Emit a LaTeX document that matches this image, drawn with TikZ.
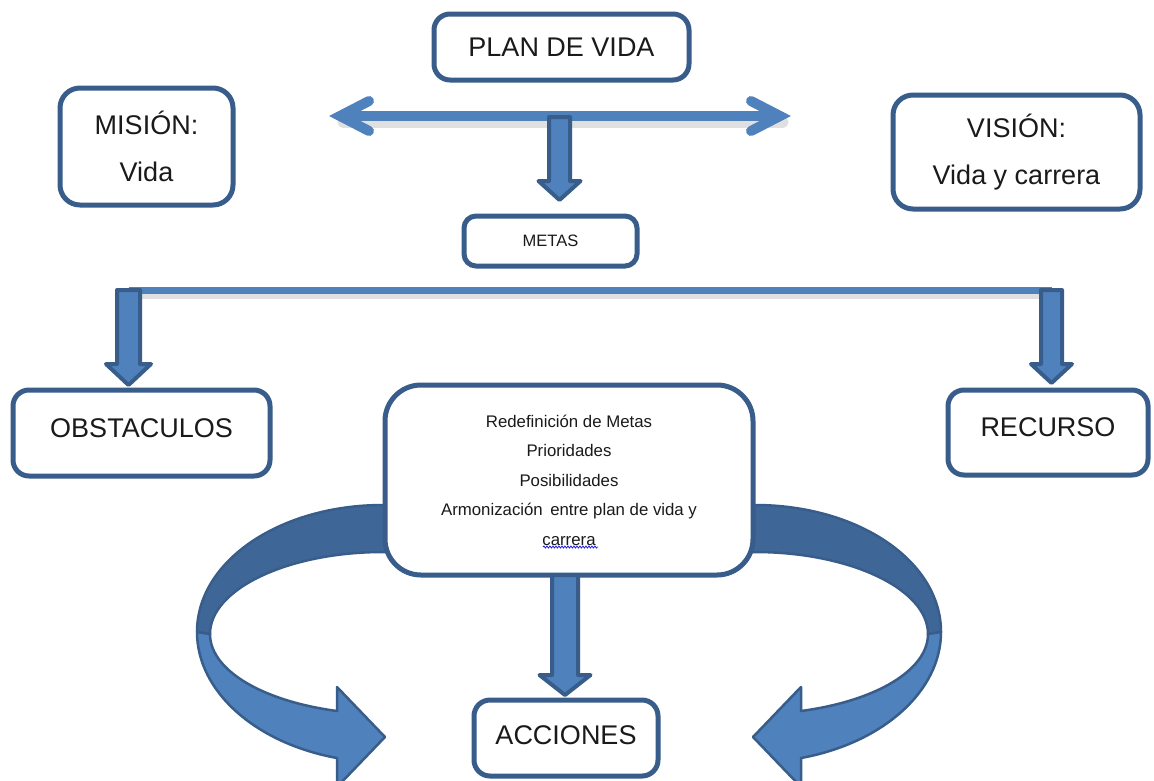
\documentclass[tikz,border=0pt]{standalone}
\usepackage{fontspec}
\setmainfont{Liberation Sans}
\usetikzlibrary{calc,decorations.pathmorphing}
\definecolor{acc}{HTML}{4F81BD}
\definecolor{bord}{HTML}{385D8A}
\definecolor{darkband}{HTML}{3E6798}
\definecolor{txt}{HTML}{1A1A1A}
\definecolor{wavyc}{HTML}{2020E0}
% block arrow: #1 top, #2 tip, #3 half shaft, #4 half head, #5 head length
\newcommand\barrow[5]{\filldraw[blk] ($(#1)+(-#3,0)$) -- ($(#2)+(-#3,-#5)$) -- ($(#2)+(-#4,-#5)$) -- (#2) -- ($(#2)+(#4,-#5)$) -- ($(#2)+(#3,-#5)$) -- ($(#1)+(#3,0)$) -- cycle;}
\newcommand\curvedarw{%
  \filldraw[band, fill=darkband] (392,505) -- (383,505) .. controls (280,505) and (197,561) .. (197,632) -- (210,634) .. controls (210,589) and (288,552) .. (383,552) -- (392,552) -- cycle;
  \filldraw[band, fill=acc] (197,632) .. controls (197,691) and (255,743) .. (337,758) -- (337,787) -- (385,737) -- (337,687) -- (337,711) .. controls (262,701) and (210,670) .. (210,634) -- cycle;}
\begin{document}
\begin{tikzpicture}[x=1pt, y=-1pt,
  box/.style={draw=bord, line width=5pt, fill=white, rounded corners=16pt, inner sep=0pt, align=center, text=txt},
  big/.style={font=\fontsize{27}{47}\selectfont},
  blk/.style={fill=acc, draw=bord, line width=4pt, line join=round},
  band/.style={draw=bord, line width=2.5pt, line join=round},
  conn/.style={draw=acc, line width=10pt},
  shadowline/.style={draw=black, opacity=0.12, line width=11pt}]
\useasboundingbox (0,0) rectangle (1154,780);
\fill[white] (0,0) rectangle (1154,780);

% double arrow
\coordinate (dl) at (340,116);
\coordinate (dr) at (780,116);
\draw[shadowline, line cap=round] ($(dl)+(3,6)$) -- ($(dr)+(3,6)$);
\draw[conn, line cap=round] (dl) -- (dr);
\draw[conn, line cap=round, line join=miter] ($(dl)+(29,-15)$) -- (dl) -- ($(dl)+(29,15)$);
\draw[conn, line cap=round, line join=miter] ($(dr)+(-29,-15)$) -- (dr) -- ($(dr)+(-29,15)$);

% horizontal distributor line
\coordinate (hl) at (128.5,290);
\coordinate (hr) at (1051.5,290);
\draw[shadowline, line width=8pt] ($(hl)+(2,5)$) -- ($(hr)+(2,5)$);
\draw[acc, line width=7pt] (hl) -- (hr);

% curved arrows
\curvedarw
\begin{scope}[xshift=1138pt, xscale=-1]
\curvedarw
\end{scope}

% boxes
\node[box, big, minimum width=255, minimum height=66] (plan) at (561.5,47) {PLAN DE VIDA};
\node[box, big, minimum width=173, minimum height=117, rounded corners=20pt] (mision) at (146.5,146.5) {MISIÓN:\\Vida};
\node[box, big, minimum width=247, minimum height=114, rounded corners=20pt] (vision) at (1016.5,152) {VISIÓN:\\Vida y carrera};
\node[box, font=\fontsize{16.5}{20}\selectfont, minimum width=173, minimum height=50, rounded corners=12pt] (metas) at (550.5,241) {METAS};
\node[box, big, minimum width=257, minimum height=86, text height=20pt, text depth=12pt] (obst) at (141.5,433) {OBSTACULOS};
\node[box, big, minimum width=200, minimum height=85, text height=20pt, text depth=12pt] (recurso) at (1048,432.5) {RECURSO};
\node[box, font=\fontsize{16.8}{29.5}\selectfont, minimum width=368, minimum height=190, rounded corners=36pt] (centro) at (569,480)
  {Redefinición de Metas\\Prioridades\\Posibilidades\\Armonización\ \,entre plan de vida y\\carrera};
\node[box, big, minimum width=184, minimum height=76, text height=20pt, text depth=8pt] (acciones) at (566,738) {ACCIONES};

% spelling underline
\coordinate (wa) at (543,547);
\coordinate (wb) at (598,547);
\draw[wavyc, line width=0.8pt, decorate, decoration={snake, amplitude=1pt, segment length=3pt}] (wa) -- (wb);

% block arrows
\coordinate (ta) at (559.5,117);
\coordinate (tt) at (559.5,200);
\barrow{ta}{tt}{10.5}{21}{19}
\coordinate (ot) at (128.5,385);
\barrow{hl}{ot}{11.5}{22.5}{21}
\coordinate (rt) at (1051.5,383);
\barrow{hr}{rt}{10.5}{20.5}{19}
\coordinate (ct) at (565,575);
\coordinate (cb) at (565,695);
\barrow{ct}{cb}{13}{25.5}{20}
\end{tikzpicture}
\end{document}
